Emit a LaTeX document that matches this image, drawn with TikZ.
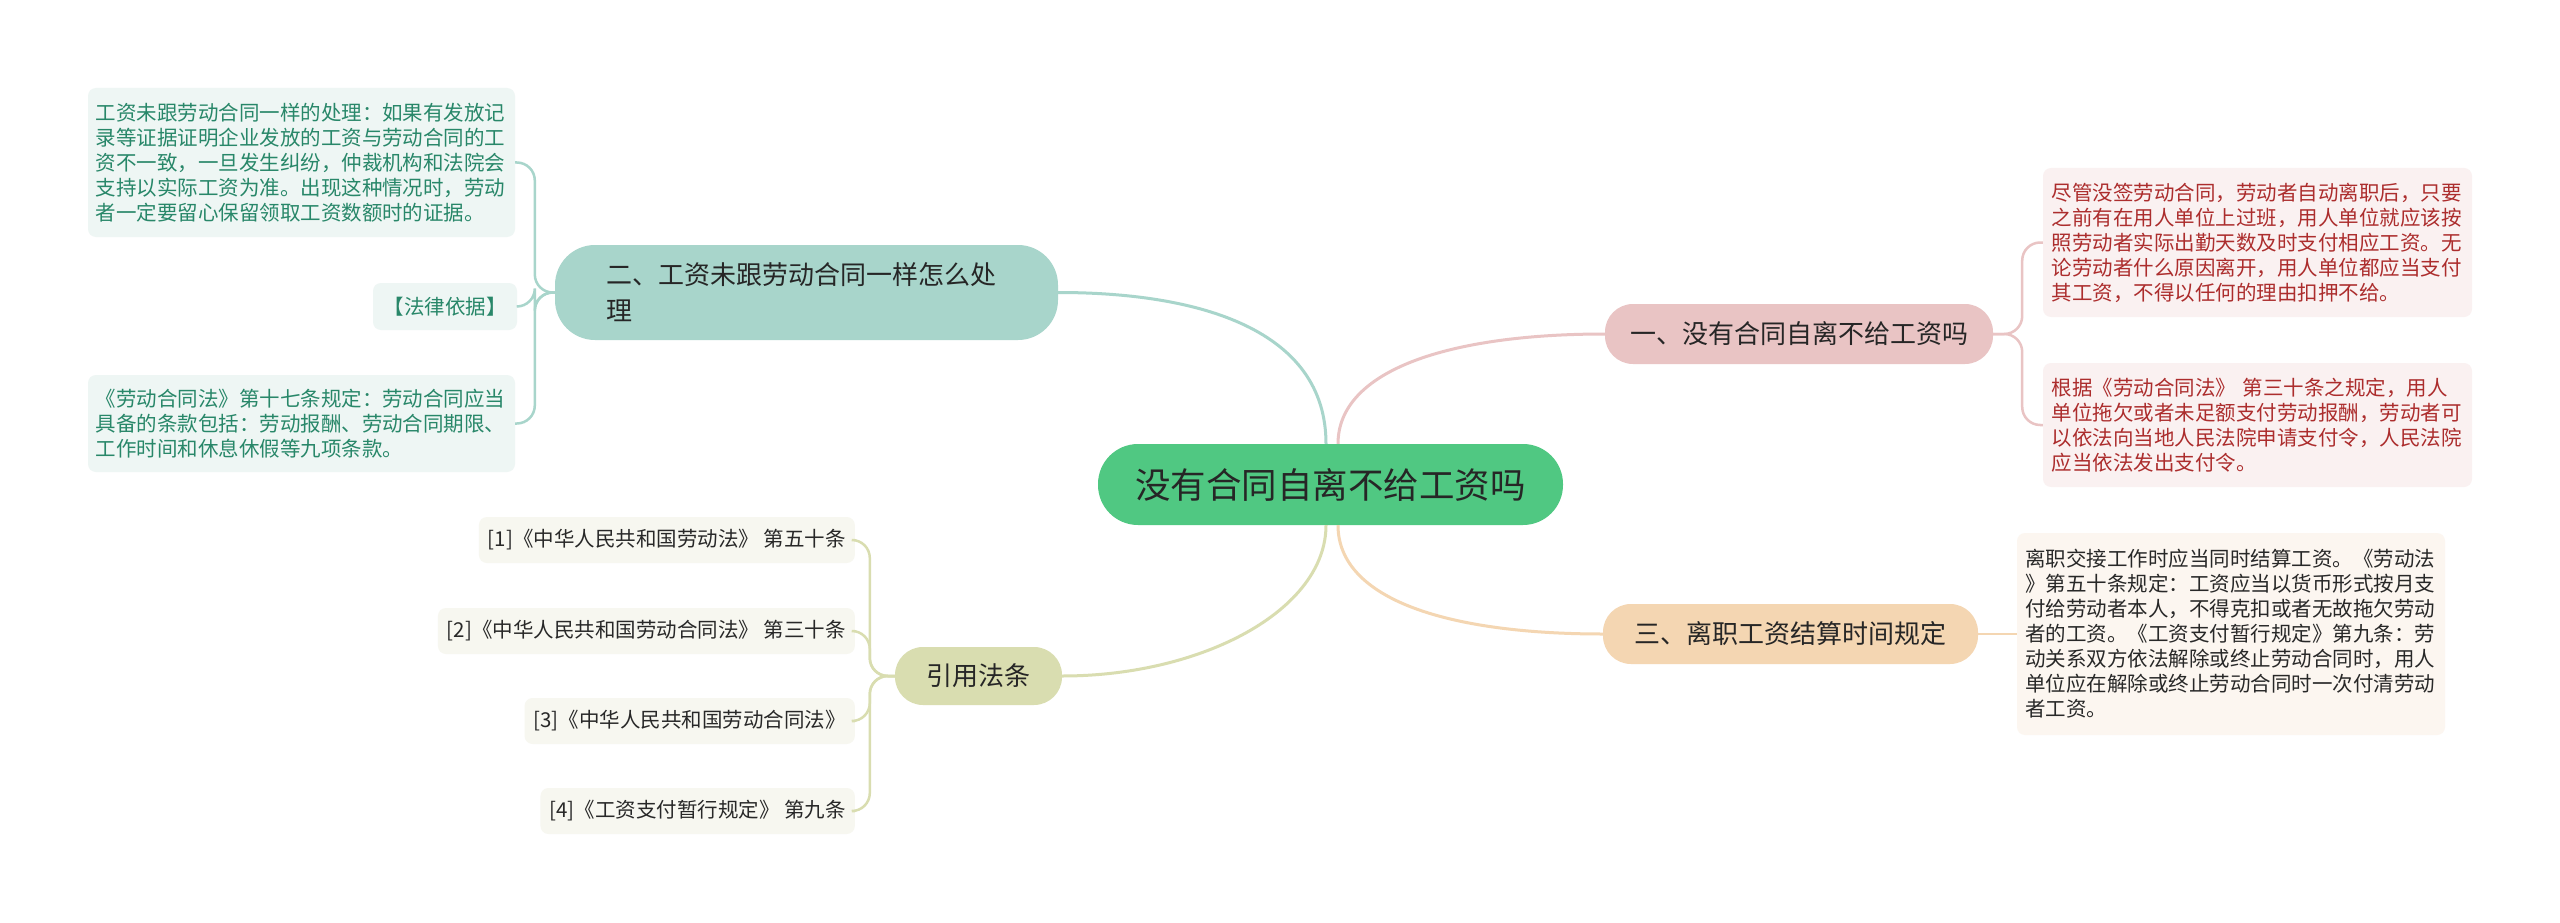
\documentclass[tikz,border=0pt]{standalone}
\usepackage{fontspec}
\setmainfont{Noto Sans CJK SC}
\usetikzlibrary{calc}
\definecolor{cgreen}{RGB}{80,200,130}
\definecolor{tealfill}{RGB}{168,213,203}
\definecolor{tealleaf}{RGB}{238,246,244}
\definecolor{tealtext}{RGB}{40,135,105}
\definecolor{pinkfill}{RGB}{233,196,196}
\definecolor{pinkleaf}{RGB}{250,241,241}
\definecolor{pinktext}{RGB}{172,45,45}
\definecolor{peachfill}{RGB}{244,214,178}
\definecolor{peachleaf}{RGB}{252,246,240}
\definecolor{olivefill}{RGB}{217,221,176}
\definecolor{oliveleaf}{RGB}{247,247,240}
\definecolor{darktext}{RGB}{40,40,40}
\begin{document}
\begin{tikzpicture}[x=1pt,y=-1pt,
  centerbox/.style={fill=cgreen, rounded corners=40, text=black!85, font={\fontsize{35.5}{42}\selectfont}, inner sep=0pt},
  branchbox/.style={rounded corners=28, text=black!85, font={\fontsize{26}{36}\selectfont}, inner sep=0pt, minimum height=60},
  leafbox/.style={rounded corners=8, font={\fontsize{20.5}{25}\selectfont}, inner ysep=0pt, align=left},
  tealleafbox/.style={leafbox, fill=tealleaf, text=tealtext},
  pinkleafbox/.style={leafbox, fill=pinkleaf, text=pinktext},
  peachleafbox/.style={leafbox, fill=peachleaf, text=darktext},
  oliveleafbox/.style={leafbox, fill=oliveleaf, text=darktext, inner xsep=9pt, minimum height=46, anchor=east},
  mainline/.style={line width=3pt},
  thinline/.style={line width=2.5pt, rounded corners=18},
]
\useasboundingbox[fill=white] (0,0) rectangle (2560,923);

% central node
\node[centerbox, minimum width=465, minimum height=81] (c) at (1330.5,484.5) {没有合同自离不给工资吗};

% branches
\node[branchbox, fill=tealfill, rounded corners=40, minimum width=503, minimum height=95, text width=400, inner xsep=51.5pt, align=left] (b2) at (806.5,292.5) {二、工资未跟劳动合同一样怎么处\\理};
\node[branchbox, fill=pinkfill, minimum width=388] (b1) at (1799,334) {一、没有合同自离不给工资吗};
\node[branchbox, fill=peachfill, minimum width=375] (b3) at (1790.5,634) {三、离职工资结算时间规定};
\node[branchbox, fill=olivefill, minimum width=167, minimum height=58] (bq) at (978.5,676) {引用法条};

% teal leaves
\node[tealleafbox, text width=412, inner xsep=7.5pt, minimum height=149] (la) at (301.5,162.5) {工资未跟劳动合同一样的处理：如果有发放记\\录等证据证明企业发放的工资与劳动合同的工\\资不一致，一旦发生纠纷，仲裁机构和法院会\\支持以实际工资为准。出现这种情况时，劳动\\者一定要留心保留领取工资数额时的证据。};
\node[tealleafbox, align=center, minimum width=144, minimum height=47] (lb) at (445,306.5) {【法律依据】};
\node[tealleafbox, text width=412, inner xsep=7.5pt, minimum height=97] (lc) at (301.5,423.5) {《劳动合同法》第十七条规定：劳动合同应当\\具备的条款包括：劳动报酬、劳动合同期限、\\工作时间和休息休假等九项条款。};

% pink leaves
\node[pinkleafbox, text width=412, inner xsep=8.5pt, minimum height=149] (ld) at (2257.5,242.5) {尽管没签劳动合同，劳动者自动离职后，只要\\之前有在用人单位上过班，用人单位就应该按\\照劳动者实际出勤天数及时支付相应工资。无\\论劳动者什么原因离开，用人单位都应当支付\\其工资，不得以任何的理由扣押不给。};
\node[pinkleafbox, text width=412, inner xsep=8.5pt, minimum height=124] (le) at (2257.5,425) {根据《劳动合同法》 第三十条之规定，用人\\单位拖欠或者未足额支付劳动报酬，劳动者可\\以依法向当地人民法院申请支付令，人民法院\\应当依法发出支付令。};

% peach leaf
\node[peachleafbox, text width=412, inner xsep=8pt, minimum height=202] (lf) at (2231,634) {离职交接工作时应当同时结算工资。《劳动法\\》第五十条规定：工资应当以货币形式按月支\\付给劳动者本人，不得克扣或者无故拖欠劳动\\者的工资。《工资支付暂行规定》第九条：劳\\动关系双方依法解除或终止劳动合同时，用人\\单位应在解除或终止劳动合同时一次付清劳动\\者工资。};

% olive leaves
\node[oliveleafbox] (q1) at (855,540) {[1]《中华人民共和国劳动法》 第五十条};
\node[oliveleafbox] (q2) at (855,631) {[2]《中华人民共和国劳动合同法》 第三十条};
\node[oliveleafbox] (q3) at (855,721) {[3]《中华人民共和国劳动合同法》};
\node[oliveleafbox] (q4) at (855,811) {[4]《工资支付暂行规定》 第九条};

% main connectors
\draw[mainline, draw=tealfill] (b2.east) .. controls +(142,0) and +(0,-114) .. ([xshift=-4.5]c.north);
\draw[mainline, draw=pinkfill] ([xshift=7.5]c.north) .. controls +(0,-74) and +(-155,0) .. (b1.west);
\draw[mainline, draw=peachfill] ([xshift=7.5]c.south) .. controls +(0,75) and +(-153,0) .. (b3.west);
\draw[mainline, draw=olivefill] ([xshift=-4.5]c.south) .. controls +(0,85) and +(140,0) .. (bq.east);

% leaf connectors
\draw[thinline, draw=tealfill] (b2.west) -- ++(-20,0) |- (la.east);
\draw[thinline, draw=tealfill] (b2.west) -- ++(-20,0) |- (lb.east);
\draw[thinline, draw=tealfill] (b2.west) -- ++(-20,0) |- (lc.east);
\draw[thinline, draw=pinkfill] (b1.east) -- ++(29,0) |- (ld.west);
\draw[thinline, draw=pinkfill] (b1.east) -- ++(29,0) |- (le.west);
\draw[thinline, draw=peachfill] (b3.east) -- (lf.west);
\draw[thinline, draw=olivefill] (bq.west) -- ++(-25,0) |- (q1.east);
\draw[thinline, draw=olivefill] (bq.west) -- ++(-25,0) |- (q2.east);
\draw[thinline, draw=olivefill] (bq.west) -- ++(-25,0) |- (q3.east);
\draw[thinline, draw=olivefill] (bq.west) -- ++(-25,0) |- (q4.east);
\end{tikzpicture}
\end{document}
